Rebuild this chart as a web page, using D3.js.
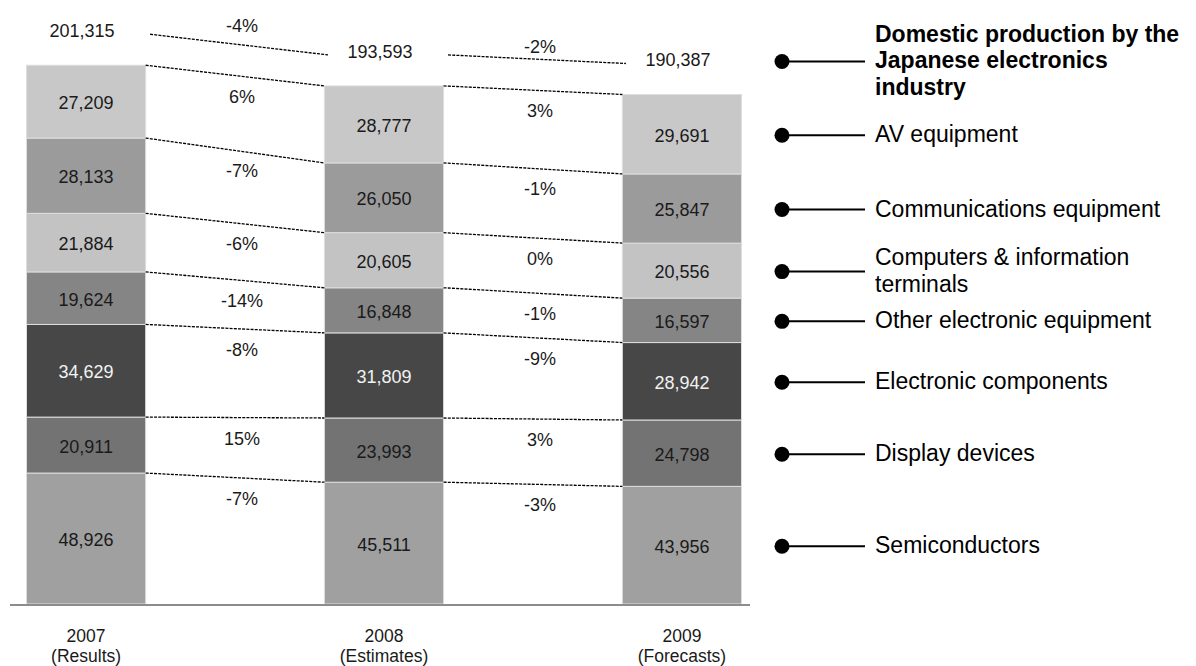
<!DOCTYPE html>
<html>
<head>
<meta charset="utf-8">
<script src="https://cdn.jsdelivr.net/npm/d3@7"></script>
<style>
  body { margin: 0; background: #fff; }
  svg { display: block; font-family: "Liberation Sans", Arial, sans-serif; }
</style>
</head>
<body>
<svg width="1196" height="666"></svg>
<script>
// Years along the axis
var years = ['2007', '2008', '2009'];
var yearNotes = ['(Results)', '(Estimates)', '(Forecasts)'];

// Segments, bottom of the stack first
var categories = ['Semiconductors', 'Display devices', 'Electronic components',
  'Other electronic equipment', 'Computers & information terminals',
  'Communications equipment', 'AV equipment'];

// Production values per year (same order as categories)
var values2007 = [48926, 20911, 34629, 19624, 21884, 28133, 27209];
var values2008 = [45511, 23993, 31809, 16848, 20605, 26050, 28777];
var values2009 = [43956, 24798, 28942, 16597, 20556, 25847, 29691];
var totals = [201315, 193593, 190387];

// Year-on-year change labels (2007->2008, 2008->2009), same order as categories
var change1 = ['-7%', '15%', '-8%', '-14%', '-6%', '-7%', '6%'];
var change2 = ['-3%', '3%', '-9%', '-1%', '0%', '-1%', '3%'];
var totalChange = ['-4%', '-2%'];

// Legend text lines
var legendTitle = ['Domestic production by the', 'Japanese electronics', 'industry'];
var legendLines = [['Semiconductors'], ['Display devices'], ['Electronic components'],
  ['Other electronic equipment'], ['Computers & information', 'terminals'],
  ['Communications equipment'], ['AV equipment']];

var fills = ['#a0a0a0', '#737373', '#474747', '#858585', '#c3c3c3', '#9b9b9b', '#c8c8c8'];
var textFills = ['#1a1a1a', '#1a1a1a', '#f2f2f2', '#1a1a1a', '#1a1a1a', '#1a1a1a', '#1a1a1a'];

var svg = d3.select('svg');
var allValues = [values2007, values2008, values2009];

var xScale = d3.scaleBand()
  .domain(years)
  .range([26.5, 741.5])
  .paddingInner(0.6)
  .paddingOuter(0);

var yScale = d3.scaleLinear()
  .domain([0, 210000])
  .range([604, 42]);

// build stacked rows: one object per year
var rows = years.map(function(y, i) {
  var r = {year: y};
  categories.forEach(function(c, j) { r[c] = allValues[i][j]; });
  return r;
});
var stack = d3.stack().keys(categories)(rows);

var bw = xScale.bandwidth();

// bars
var layers = svg.append('g').selectAll('g')
  .data(stack)
  .enter().append('g')
  .attr('fill', function(d, i) { return fills[i]; });

layers.selectAll('rect')
  .data(function(d) { return d; })
  .enter().append('rect')
  .attr('x', function(d) { return xScale(d.data.year); })
  .attr('y', function(d) { return yScale(d[1]); })
  .attr('width', bw)
  .attr('height', function(d) { return yScale(d[0]) - yScale(d[1]); })
  .attr('stroke', '#dedede')
  .attr('stroke-width', 1);

// value labels inside segments
stack.forEach(function(layer, i) {
  svg.append('g').selectAll('text')
    .data(layer)
    .enter().append('text')
    .attr('x', function(d) { return xScale(d.data.year) + bw / 2; })
    .attr('y', function(d) { return (yScale(d[0]) + yScale(d[1])) / 2 + 7.5; })
    .attr('text-anchor', 'middle')
    .attr('font-size', 18)
    .attr('fill', textFills[i])
    .text(function(d) { return d3.format(',')(d[1] - d[0]); });
});

// dashed connectors between segment tops + change labels
var connG = svg.append('g');
var changes = [change1, change2];
for (var k = 0; k < years.length - 1; k++) {
  var xa = xScale(years[k]) + bw;
  var xb = xScale(years[k + 1]);
  stack.forEach(function(layer, i) {
    var ya = yScale(layer[k][1]);
    var yb = yScale(layer[k + 1][1]);
    connG.append('line')
      .attr('x1', xa).attr('y1', ya)
      .attr('x2', xb).attr('y2', yb)
      .attr('stroke', '#000')
      .attr('stroke-width', 1.3)
      .attr('stroke-dasharray', '3,1.2');
    connG.append('text')
      .attr('x', (xa + xb) / 2 + 7)
      .attr('y', (ya + yb) / 2 + 27)
      .attr('text-anchor', 'middle')
      .attr('font-size', 18)
      .attr('fill', '#1a1a1a')
      .text(changes[k][i]);
  });
}

// totals above the bars
var totalY = function(i) { return yScale(totals[i]) - 28; };
years.forEach(function(y, i) {
  svg.append('text')
    .attr('x', xScale(y) + bw / 2 - 4)
    .attr('y', totalY(i))
    .attr('text-anchor', 'middle')
    .attr('font-size', 18)
    .attr('fill', '#1a1a1a')
    .text(d3.format(',')(totals[i]));
});
for (var t = 0; t < years.length - 1; t++) {
  var x1 = xScale(years[t]) + bw / 2 + 64;
  var x2 = xScale(years[t + 1]) + bw / 2 - 56;
  connG.append('line')
    .attr('x1', x1).attr('y1', totalY(t) - 3)
    .attr('x2', x2).attr('y2', totalY(t + 1) - 3)
    .attr('stroke', '#000')
    .attr('stroke-width', 1.3)
    .attr('stroke-dasharray', '3,1.2');
  connG.append('text')
    .attr('x', (xScale(years[t]) + xScale(years[t + 1])) / 2 + bw / 2 + 7)
    .attr('y', totalY(t) - 5)
    .attr('text-anchor', 'middle')
    .attr('font-size', 18)
    .attr('fill', '#1a1a1a')
    .text(totalChange[t]);
}

// baseline
svg.append('line')
  .attr('x1', 10).attr('x2', 750)
  .attr('y1', yScale(0) + 1).attr('y2', yScale(0) + 1)
  .attr('stroke', '#8c8c8c')
  .attr('stroke-width', 2);

// year labels
years.forEach(function(y, i) {
  var tx = svg.append('text')
    .attr('x', xScale(y) + bw / 2)
    .attr('y', 642)
    .attr('text-anchor', 'middle')
    .attr('font-size', 17.5)
    .attr('fill', '#1a1a1a');
  tx.append('tspan').attr('x', xScale(y) + bw / 2).text(y);
  tx.append('tspan').attr('x', xScale(y) + bw / 2).attr('dy', 20).text(yearNotes[i]);
});

// legend, aligned with the last bar's segments
var legG = svg.append('g');
var dotX = 782, lineEnd = 865, textX = 875, lh = 26.5;
var last = years.length - 1;

function legendItem(cy, lines, bold) {
  legG.append('circle').attr('cx', dotX).attr('cy', cy).attr('r', 7.5).attr('fill', '#000');
  legG.append('line')
    .attr('x1', dotX).attr('x2', lineEnd)
    .attr('y1', cy).attr('y2', cy)
    .attr('stroke', '#000').attr('stroke-width', 2);
  var txt = legG.append('text')
    .attr('font-size', 23)
    .attr('font-weight', bold ? 'bold' : 'normal')
    .attr('fill', '#000');
  lines.forEach(function(l, j) {
    txt.append('tspan')
      .attr('x', textX)
      .attr('y', cy + 7 + (j - (lines.length - 1) / 2) * lh)
      .text(l);
  });
}

legendItem(totalY(last) - 5, legendTitle, true);
stack.forEach(function(layer, i) {
  var cy = (yScale(layer[last][0]) + yScale(layer[last][1])) / 2 + 1;
  legendItem(cy, legendLines[i], false);
});
</script>
</body>
</html>
